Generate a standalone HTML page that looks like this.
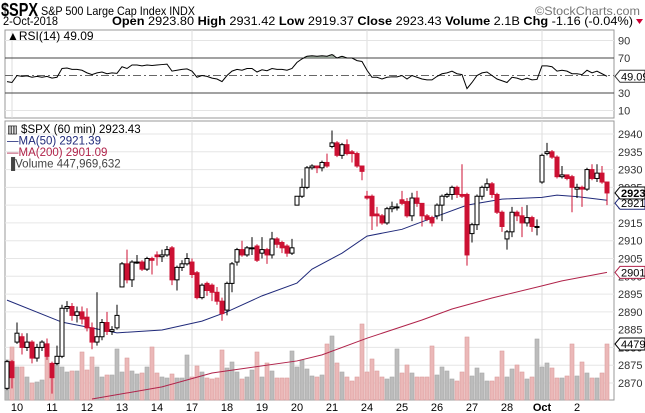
<!DOCTYPE html>
<html><head><meta charset="utf-8">
<style>
body{margin:0;background:#fff;width:645px;height:413px;overflow:hidden;font-family:"Liberation Sans",sans-serif;}
svg{display:block}
text{font-family:"Liberation Sans",sans-serif;}
</style></head>
<body>
<svg id="chart" width="645" height="413" viewBox="0 0 645 413" xmlns="http://www.w3.org/2000/svg">
  <g>
    <text x="1" y="16" font-size="18" font-weight="bold" fill="#000" textLength="37" lengthAdjust="spacingAndGlyphs">$SPX</text>
    <text x="41" y="15" font-size="12" fill="#000" textLength="154" lengthAdjust="spacingAndGlyphs">S&amp;P 500 Large Cap Index  INDX</text>
    <text x="535" y="15" font-size="12" fill="#777" textLength="105" lengthAdjust="spacingAndGlyphs">©StockCharts.com</text>
    <text x="3" y="25" font-size="11.5" fill="#000" textLength="55" lengthAdjust="spacingAndGlyphs">2-Oct-2018</text>
    <text x="112" y="25" font-size="12" fill="#000" textLength="521" lengthAdjust="spacingAndGlyphs"><tspan font-weight="bold">Open</tspan> 2923.80  <tspan font-weight="bold">High</tspan> 2931.42  <tspan font-weight="bold">Low</tspan> 2919.37  <tspan font-weight="bold">Close</tspan> 2923.43  <tspan font-weight="bold">Volume</tspan> 2.1B  <tspan font-weight="bold">Chg</tspan> -1.16 (-0.04%)</text>
    <polygon points="636,19 643,19 639.5,24" fill="#c03"/>
  </g>
  <g id="rsiPanel"></g>
  <g id="pricePanel"></g>
</svg>
<script>
const NS="http://www.w3.org/2000/svg";
// ---- data ----
const dayLabels=["10","11","12","13","14","17","18","19","20","21","24","25","26","27","28","Oct","2"];
const dayStartIdx=[2,9,16,23,30,37,44,51,58,65,72,79,86,93,100,107,114];
const weekStartIdx=[37,72,107];
const opens=[2868.5,2876,2881.5,2883,2880,2881.5,2877,2880,2881,2875.5,2875.5,2877.5,2891,2891.5,2889,2890,2888.5,2885.5,2881.5,2883,2887,2884.5,2885.5,2897,2903.5,2899,2904,2904,2902,2905,2906,2905.5,2906,2908,2899,2902.5,2903.5,2904,2901,2894,2898,2897.5,2895.5,2893,2890.5,2898,2904,2907.5,2906,2908,2908.5,2906.5,2907.5,2906,2910.5,2909.5,2908.5,2906.5,2920,2922.5,2925,2930.5,2931,2930.5,2932,2936.5,2937.5,2934,2937,2935,2934.5,2931,2922.5,2922.5,2917.5,2917,2915,2919,2919.5,2921.5,2921,2917,2922,2920.5,2917,2916.5,2917,2920,2922.5,2923,2925,2923,2923,2912,2914.5,2922.5,2925,2926,2923,2918,2910.5,2912.5,2918,2917,2915,2916.5,2914,2926.5,2934.5,2935,2933.5,2928,2928.5,2928,2924.5,2925,2924.5,2930,2927.5,2929,2926.5];
const highs=[2876.5,2876.5,2887,2884,2884,2882,2881,2882,2882.5,2876,2880.5,2892,2893,2892.5,2891.5,2891.5,2891,2887,2895.5,2888,2890,2886,2892,2904,2907.5,2904.5,2906,2904.5,2905.5,2905.5,2907,2907.5,2908.5,2908.5,2903,2904.5,2906.5,2905,2901.5,2898,2898.5,2898,2897,2894,2898.5,2904,2908,2910,2908.5,2911,2909,2911,2908,2912.5,2911,2910,2909,2910.5,2922.5,2927.5,2931,2931.5,2931,2932.5,2934.5,2941,2938,2937.5,2938.5,2935.5,2935,2931,2924,2923,2919.5,2917.5,2919.5,2921,2920.5,2924,2922,2923.5,2924,2920.5,2917.5,2917,2920.5,2923,2923.5,2925.5,2925.5,2931.5,2923.5,2915,2923,2925.5,2927.5,2926.5,2923.5,2918.5,2913,2919.5,2918.5,2919.5,2920,2917,2916,2934.5,2937.5,2935.5,2934,2931,2928.5,2928.5,2926,2925.5,2930.5,2931.5,2931.5,2931,2926.5];
const lows=[2868,2868.5,2881,2878,2879,2875.5,2876,2879,2876.5,2867,2875,2877,2890,2887.5,2887,2886.5,2884.5,2879.5,2880.5,2882,2883.5,2883.5,2885,2897,2898,2897,2903.5,2901.5,2901.5,2900.5,2903,2904,2905.5,2897.5,2896,2901.5,2903,2899.5,2893.5,2893.5,2894.5,2893,2892,2887.5,2889,2895.5,2903,2905.5,2905.5,2906,2904,2905,2903.5,2905,2908,2906.5,2905.5,2906,2920,2922,2924.5,2930,2929,2929.5,2930.5,2936,2933.5,2933,2934,2932,2930.5,2927,2921.5,2913,2914,2914.5,2914.5,2918,2918.5,2920,2916.5,2915.5,2919.5,2914,2915.5,2914,2916,2915.5,2922,2921.5,2922,2922,2903,2909.5,2913,2921.5,2924,2922,2917.5,2912.5,2907.5,2911,2915.5,2911,2914,2912.5,2911.5,2926,2934,2933,2927.5,2927.5,2927,2918,2922,2919.5,2924,2927,2926.5,2926,2920];
const closes=[2876,2871.5,2884,2880,2881.5,2877,2880,2881.5,2877.5,2871.5,2877.5,2891,2891.5,2889,2890,2888,2885.5,2881.5,2883,2887,2884.5,2885,2889,2903.5,2899,2904,2904,2902,2905,2904.5,2905.5,2906,2907.5,2899,2902.5,2903.5,2905,2900.5,2894,2897.5,2896,2895.5,2893,2889.5,2898,2903.5,2907.5,2906,2908,2908,2904.5,2907.5,2906,2910.5,2909,2908,2906.5,2908,2922.5,2925,2930.5,2931,2930.5,2932,2931,2937.5,2934,2937,2934.5,2934.5,2931,2929.5,2922,2917,2917,2915,2919,2919.5,2919.5,2920.5,2917,2922,2920.5,2917,2916,2915,2920,2922.5,2923,2925,2923,2922.5,2906,2914.5,2922.5,2925,2926,2923,2918,2914,2912.5,2918,2917,2915,2916.5,2914,2914,2934,2935,2933.5,2928,2928.5,2927.5,2925,2925,2924.5,2930,2927.5,2929,2926.5,2923.43];
const volumesM=[320,424,264,264,184,136,144,160,376,280,312,264,224,232,232,384,240,344,264,184,200,200,408,224,336,232,208,216,264,424,216,184,176,208,176,176,360,184,272,224,176,168,176,400,256,304,224,168,184,240,384,184,296,232,176,176,176,392,264,320,248,192,184,200,448,512,296,224,184,152,184,608,224,328,232,184,168,184,408,216,280,216,184,184,184,432,200,264,232,168,152,224,504,192,256,216,152,152,184,392,184,248,280,224,168,184,488,264,296,256,176,176,192,448,192,304,216,176,176,216,448];
const ma50Idx=[0,11,22,31,39,44,51,58,61,67,72,79,86,92,99,107,110,114,120];
const ma50Vals=[2893.3,2887.1,2884.1,2884.9,2887.4,2890,2894.5,2898.1,2902,2906.5,2911.3,2913.2,2916.9,2920,2921.7,2922.2,2922.8,2922.4,2921.39];
const ma200Idx=[17,31,41,58,63,72,83,89,97,107,111,120];
const ma200Vals=[2865.5,2868.9,2872.8,2876.2,2877.9,2882.6,2887.7,2890.8,2893.9,2897.3,2898.7,2901.09];
const rsiVals=[43,42,50,49,49.5,48,49,48,49,47,48,58,58.5,57,57,56,53,51,53,54,52,53,52.5,60,58,62,62,61,62,61.5,62,62.5,63,55,56,57,57.5,55,48,50,49,47,46,43,50,55,57,56,58,58,54,56.5,55.5,58,57,57,56,58,65,69,72,72.5,72,72.5,72,74,70,72,70,70,67,66,56,48,48,46,48,48.5,48.5,50,46,50,48,46,45,45,49,52,53,55,52,51,35,42,50,53,54,50,46,44,42,48,47,45,47,45,45.5,61,61,60,55,56,55,52,52,51,56,53,55,52,49.09];
const priceTicks=[2870,2875,2880,2885,2890,2895,2900,2905,2910,2915,2920,2925,2930,2935,2940];
const rsiTicks=[10,30,50,70,90];

// ---- scales ----
const L=5,R=614;
const xOf=i=>7+5*i;
const yP=p=>134+(2940-p)*3.557;
const yR=r=>58+(70-r)*0.875;
const VB=400, vScale=56/448;
const yV=v=>VB-v*vScale;

function mk(tag,attrs,parent){const e=document.createElementNS(NS,tag);for(const k in attrs)e.setAttribute(k,attrs[k]);parent.appendChild(e);return e;}

// ---- RSI panel ----
const rp=document.getElementById('rsiPanel');
let e;
e=mk('rect',{x:L,y:30,width:R-L,height:88,fill:'#fff',stroke:'#999'},rp);


weekStartIdx.concat([1]).forEach(i=>{
  e=mk('line',{x1:xOf(i),x2:xOf(i),y1:30,y2:118,stroke:'#ddd'},rp);
  
  
});
rsiTicks.forEach(t=>{
  const y=yR(t);
  let st=t===70||t===30?{stroke:'#444'}:t===50?{stroke:'#666','stroke-dasharray':'8,3,2,3'}:{stroke:'#e4e4e4'};
  e=mk('line',Object.assign({x1:L,x2:R,y1:y,y2:y},st),rp);
  
  
  if(t!==50){
    e=mk('text',{x:618,y:y+4,'font-size':11,fill:'#333'},rp);e.textContent=t;
    
    
  }
});
let shade='';
for(let i=0;i<rsiVals.length;i++){ if(rsiVals[i]>70){ shade+=`M${xOf(i)-2.5},${yR(70)}L${xOf(i)-2.5},${yR(rsiVals[i])}L${xOf(i)+2.5},${yR(rsiVals[i])}L${xOf(i)+2.5},${yR(70)}Z`; } }
e=mk('path',{d:shade,fill:'#8a9a8a',opacity:0.8},rp);


e=mk('polyline',{points:rsiVals.map((v,i)=>xOf(i)+','+yR(v)).join(' '),fill:'none',stroke:'#000','stroke-width':1},rp);


e=mk('text',{x:7,y:40,'font-size':12,fill:'#000'},rp);e.textContent='\u25B2RSI(14) 49.09';


{const y=yR(rsiVals[rsiVals.length-1]);
e=mk('path',{d:`M615,${y}L620,${y-6}L645,${y-6}L645,${y+6}L620,${y+6}Z`,fill:'#fff',stroke:'#333'},rp);


e=mk('text',{x:621,y:y+4,'font-size':11,fill:'#000'},rp);e.textContent='49.09';

}

// ---- Price panel ----
const pp=document.getElementById('pricePanel');
e=mk('rect',{x:L,y:121,width:R-L,height:279,fill:'#fff',stroke:'#999'},pp);


priceTicks.forEach(t=>{
  const y=yP(t);
  e=mk('line',{x1:L,x2:R,y1:y,y2:y,stroke:'#e6e6e6'},pp);
  
  
  e=mk('text',{x:618,y:y+4,'font-size':11,fill:'#333'},pp);e.textContent=t;
  
  
});
weekStartIdx.forEach(i=>{
  e=mk('line',{x1:xOf(i),x2:xOf(i),y1:121,y2:400,stroke:'#ddd'},pp);
  
  
});
for(let i=0;i<volumesM.length;i++){
  const up=closes[i]>=opens[i];
  const y=yV(volumesM[i]);
  e=mk('rect',{x:xOf(i)-2,y:y,width:4,height:VB-y,fill:up?'#bcbcbc':'#ebb8b8',stroke:up?'#a8a8a8':'#dc9c9c','stroke-width':0.6},pp);
  
  
}
e=mk('polyline',{points:ma200Idx.map((ix,k)=>xOf(ix)+','+Math.min(400,yP(ma200Vals[k]))).join(' '),fill:'none',stroke:'#b0234a','stroke-width':1},pp);


e=mk('polyline',{points:ma50Idx.map((ix,k)=>xOf(ix)+','+yP(ma50Vals[k])).join(' '),fill:'none',stroke:'#202a7a','stroke-width':1},pp);


for(let i=0;i<opens.length;i++){
  const x=xOf(i),up=closes[i]>=opens[i];
  const col=up?'#000':'#cc1133';
  e=mk('line',{x1:x,x2:x,y1:yP(highs[i]),y2:yP(lows[i]),stroke:col,'stroke-width':1},pp);
  
  
  const y1=yP(Math.max(opens[i],closes[i])),y2=yP(Math.min(opens[i],closes[i]));
  e=mk('rect',{x:x-2,y:y1,width:4,height:Math.max(1,y2-y1),fill:up?'#fff':'#cc1133',stroke:col,'stroke-width':1},pp);
  
  
}
dayLabels.forEach((d,k)=>{
  e=mk('text',{x:xOf(dayStartIdx[k]),y:411,'font-size':11,fill:'#000','text-anchor':'middle','font-weight':d==='Oct'?'bold':'normal'},pp);
  e.textContent=d;
  
  
});
const leg=[['\u25A5 $SPX (60 min) 2923.43','#000'],['\u2014MA(50) 2921.39','#202a7a'],['\u2014MA(200) 2901.09','#b0234a'],['\u2590Volume 447,969,632','#444']];
leg.forEach((l,k)=>{
  e=mk('text',{x:7,y:133+k*11.5,'font-size':11.5,fill:l[1]},pp);e.textContent=l[0];
  
  
});
function callout(y,txt,col,bold,name){
  e=mk('path',{d:`M615,${y}L620,${y-6}L645,${y-6}L645,${y+6}L620,${y+6}Z`,fill:'#fff',stroke:col},pp);
  
  
  e=mk('text',{x:621,y:y+4,'font-size':11,fill:'#000','font-weight':bold?'bold':'normal'},pp);e.textContent=txt;
  
  
}
callout(yP(ma50Vals[ma50Vals.length-1])+3,'2921.39','#202a7a',false,'ma50-callout');
callout(yP(closes[closes.length-1]),'2923.43','#000',true,'close-callout');
callout(yP(ma200Vals[ma200Vals.length-1]),'2901.09','#b0234a',false,'ma200-callout');
callout(yV(volumesM[volumesM.length-1]),'447969632','#000',false,'volume-callout');
</script>
</body></html>
